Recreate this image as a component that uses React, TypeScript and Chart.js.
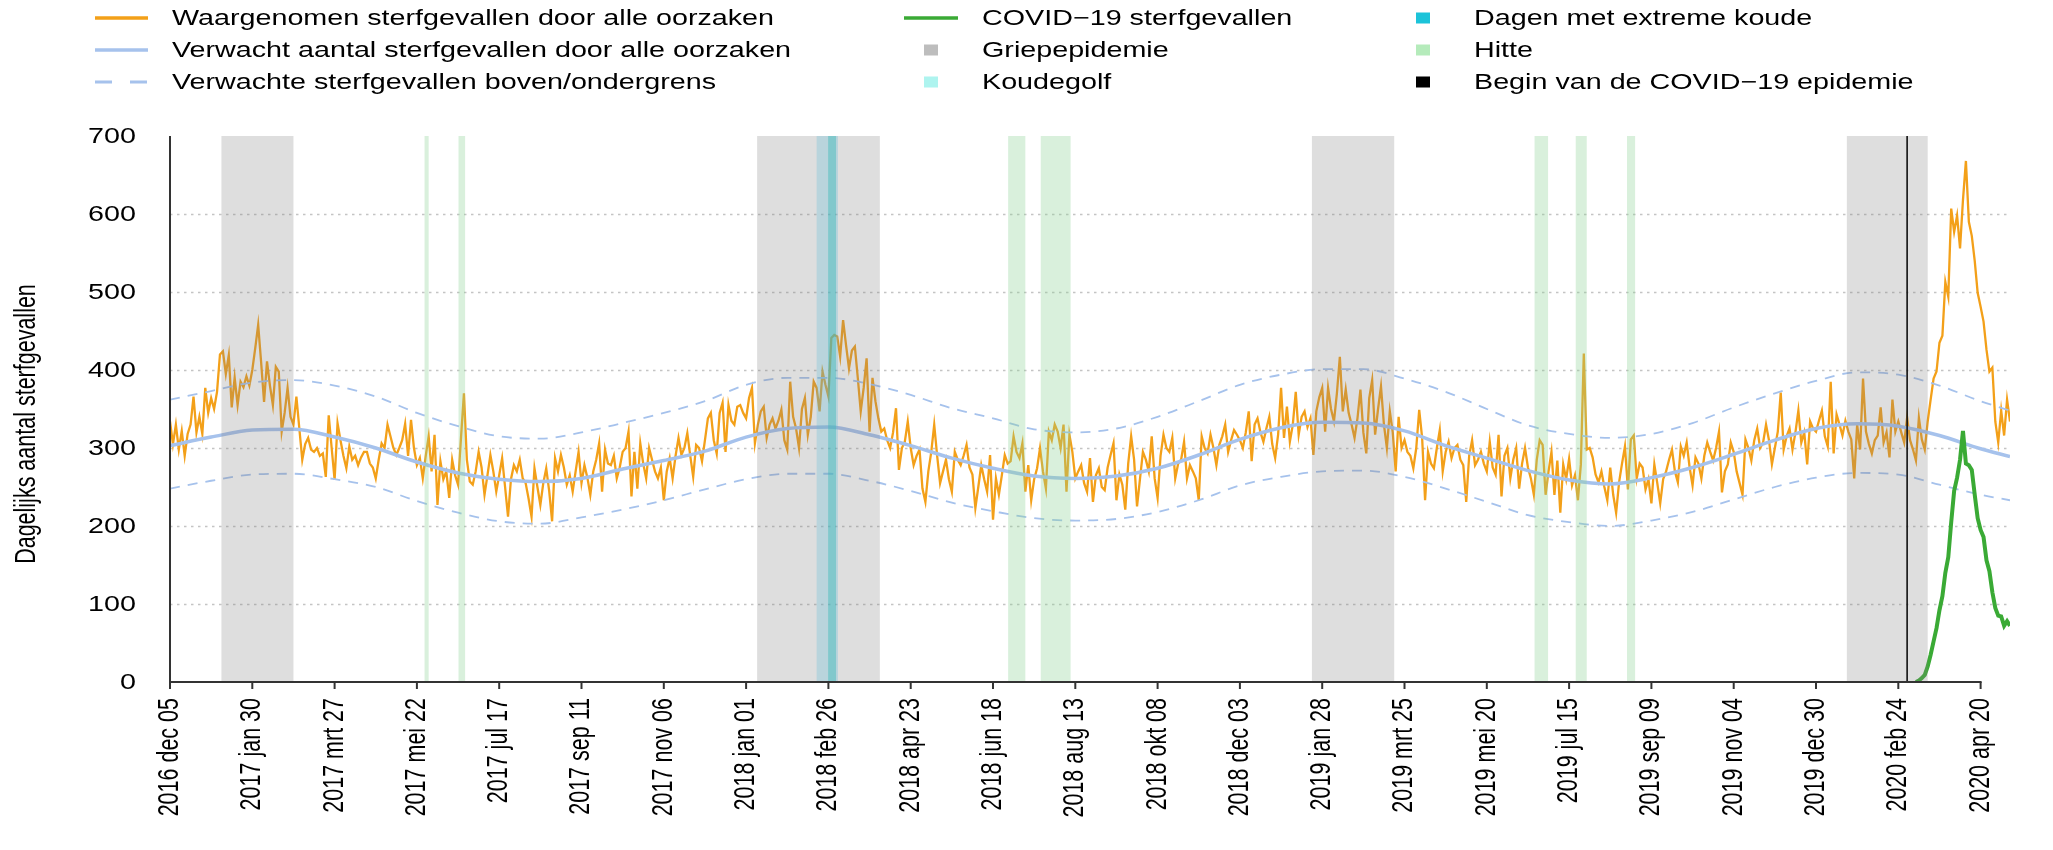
import { useEffect, useRef } from "react";
import { Chart, registerables } from "chart.js";

Chart.register(...registerables);

// ---------- DATA ----------
// Observed daily deaths, one value every 2 days starting 2016-12-05 (day 0)
const STEP_DAYS = 2;
const observed = [
  334,305,330,298,322,290,318,330,366,320,
  340,318,377,345,364,350,372,420,424,395,
  419,352,390,355,385,378,392,380,400,428,
  458,410,359,411,380,355,404,398,321,345,
  377,340,330,366,325,285,305,313,298,295,
  300,290,293,263,342,300,259,332,310,290,
  274,302,285,290,278,288,295,295,280,275,
  261,285,306,300,330,315,300,291,300,310,
  331,290,336,300,278,287,261,290,315,270,
  317,227,283,260,270,236,285,265,253,313,
  370,285,257,253,270,295,275,240,265,291,
  270,244,265,287,250,212,260,278,270,285,
  261,255,235,212,274,250,227,255,274,245,
  206,287,270,291,275,253,265,244,270,295,
  255,278,262,240,270,285,306,244,298,
  280,278,290,261,275,295,300,321,238,295,
  248,306,280,261,300,285,270,261,275,233,
  270,287,261,290,313,291,300,319,290,263,
  304,300,283,310,338,345,310,293,345,358,
  295,355,335,330,353,355,345,338,364,377,
  306,330,347,353,313,330,338,325,335,349,
  310,298,385,340,325,300,350,364,317,340,
  385,377,347,398,381,366,441,445,443,417,
  464,432,402,425,430,390,347,377,415,321,
  390,360,338,321,325,310,300,320,351,272,
  300,308,334,300,278,290,298,248,231,270,
  295,330,290,255,270,285,260,244,295,285,
  278,290,304,275,266,223,250,278,260,244,
  291,208,261,240,265,291,280,283,315,
  295,287,306,244,278,233,260,274,300,270,
  248,321,310,330,321,300,330,244,317,295,
  261,270,278,255,244,287,231,265,
  274,250,246,275,291,306,233,266,253,221,
  280,315,285,225,260,295,285,270,315,261,
  236,290,317,300,295,313,261,280,285,308,
  261,278,270,261,233,315,300,293,317,300,
  278,304,315,330,295,310,323,317,310,300,
  320,347,283,330,338,320,308,325,340,305,
  287,317,377,313,353,308,330,372,317,340,
  347,327,338,291,347,365,377,321,377,350,
  334,370,417,347,375,345,330,313,338,375,
  320,293,364,387,317,350,379,330,300,347,
  320,270,340,300,310,295,290,274,300,
  349,313,233,295,280,274,300,323,270,295,
  308,287,300,304,285,278,231,290,310,278,
  285,295,280,270,308,275,266,317,238,290,
  300,261,285,300,248,280,300,275,261,240,
  285,310,304,240,270,295,240,
  284,217,279,260,286,252,265,233,279,421,
  298,300,288,266,256,270,250,233,275,240,
  217,256,280,302,247,311,316,261,280,275,
  247,260,229,279,255,229,260,270,285,298,
  270,256,302,290,307,275,252,288,280,261,
  290,307,295,284,300,321,243,270,279,307,
  295,270,255,240,311,300,284,310,325,300,
  307,330,310,279,300,321,371,298,315,325,
  298,320,348,307,320,279,334,325,321,335,
  348,315,302,385,293,343,330,316,335,321,
  311,261,330,298,389,321,305,293,310,316,
  352,307,320,288,362,321,334,320,307,339,
  310,298,284,339,311,298,334,362,389,398,
  435,444,513,494,607,577,598,556,618,668,
  590,572,540,499,481,462,426,398,403,334,
  307,348,316,362,334,
];

// Expected deaths and bounds, read at these days
const expectedDays = [
  0,28,56,84,112,140,168,196,224,252,280,308,336,364,392,420,448,476,504,532,560,588,616,644,
  672,700,728,756,784,812,840,868,896,924,952,980,1008,1036,1064,1092,1120,1148,1176,1204,1232,1252,
];
const expected = [
  303,314,323,324,314,300,282,268,260,257,261,273,284,296,314,325,327,317,303,287,274,264,261,264,
  274,291,311,326,333,332,322,303,287,271,259,254,262,275,292,310,325,331,328,316,299,289,
];
const upperBound = [
  362,373,384,387,380,366,345,328,315,312,320,332,345,360,381,390,390,382,368,351,338,324,320,325,
  340,360,381,394,401,401,389,372,350,329,318,313,318,332,352,370,386,397,394,380,360,348,
];
const lowerBound = [
  248,258,266,267,260,250,232,217,206,203,211,221,233,247,260,267,267,258,245,230,219,210,207,209,
  218,233,252,263,270,271,263,248,231,214,205,200,207,218,234,250,262,268,266,253,240,233,
];

// COVID-19 deaths, every 2 days from this day
const covidFirstDay = 1188;
const covidDeaths = [
  0,2,5,9,20,35,52,69,92,110,140,160,205,245,262,285,322,280,278,272,240,210,195,186,156,142,115,95,85,84,72,78,72,
];

// Periods (day numbers since 2016-12-05)
const griepStart = [35, 399.5, 777, 1141];
const griepEnd = [84, 483, 833, 1196];
const koudegolfStart = [440];
const koudegolfEnd = [454.5];
const extremeKoudeStart = [447.8];
const extremeKoudeEnd = [453.2];
const hitteStart = [173.2, 196.3, 570.3, 592.5, 928.5, 956.5, 991.4];
const hitteEnd = [176, 200.8, 582, 612.8, 937.7, 964, 996.9];
const covidEpidemicStart = 1182;

// Axes
const xTickDays = [0,56,112,168,224,280,336,392,448,504,560,616,672,728,784,840,896,952,1008,1064,1120,1176,1232];
const xTickLabels = [
  "2016 dec 05","2017 jan 30","2017 mrt 27","2017 mei 22","2017 jul 17","2017 sep 11","2017 nov 06",
  "2018 jan 01","2018 feb 26","2018 apr 23","2018 jun 18","2018 aug 13","2018 okt 08","2018 dec 03",
  "2019 jan 28","2019 mrt 25","2019 mei 20","2019 jul 15","2019 sep 09","2019 nov 04","2019 dec 30",
  "2020 feb 24","2020 apr 20",
];
const yTickValues = [0,100,200,300,400,500,600,700];
const gridValues = [100,200,300,400,500,600];
const yTitle = "Dagelijks aantal sterfgevallen";

// ---------- STYLE ----------
const ORANGE = "rgb(243,160,25)";
const BLUE = "rgb(166,194,236)";
const GREEN = "rgb(58,170,53)";
const FONT = '"Liberation Sans", Arial, Helvetica, sans-serif';
const SX = 1.335;

const legendItems = [
  { label: "Waargenomen sterfgevallen door alle oorzaken", kind: "line", color: ORANGE, col: 0, row: 0 },
  { label: "Verwacht aantal sterfgevallen door alle oorzaken", kind: "line", color: BLUE, col: 0, row: 1 },
  { label: "Verwachte sterfgevallen boven/ondergrens", kind: "dash", color: BLUE, col: 0, row: 2 },
  { label: "COVID\u221219 sterfgevallen", kind: "line", color: GREEN, col: 1, row: 0 },
  { label: "Griepepidemie", kind: "square", color: "#bdbdbd", col: 1, row: 1 },
  { label: "Koudegolf", kind: "square", color: "#aef4ef", col: 1, row: 2 },
  { label: "Dagen met extreme koude", kind: "square", color: "#1cc3d9", col: 2, row: 0 },
  { label: "Hitte", kind: "square", color: "#b5ebbb", col: 2, row: 1 },
  { label: "Begin van de COVID\u221219 epidemie", kind: "square", color: "#000000", col: 2, row: 2 },
];
const legendRowY = [18, 50, 82];
const legendCols = [
  { x0: 95, x1: 148, text: 172 },
  { x0: 904, x1: 958, text: 982 },
  { x0: 1416, x1: 1430, text: 1474 },
];

function drawText(ctx: CanvasRenderingContext2D, s: string, x: number, y: number, size: number, align: CanvasTextAlign, rotated = false) {
  ctx.save();
  ctx.translate(x, y);
  if (rotated) {
    ctx.rotate(-Math.PI / 2);
    ctx.scale(1, SX);
  } else {
    ctx.scale(SX, 1);
  }
  ctx.font = `${size}px ${FONT}`;
  ctx.textAlign = align;
  ctx.textBaseline = "middle";
  ctx.fillStyle = "#000";
  ctx.fillText(s, 0, 0);
  ctx.restore();
}

const overlayPlugin = {
  id: "overlay",
  beforeDatasetsDraw(chart: any) {
    const { ctx, chartArea, scales } = chart;
    const y = scales.y;
    ctx.save();
    ctx.strokeStyle = "#c4c4c4";
    ctx.lineWidth = 1.5;
    ctx.setLineDash([2.5, 4.5]);
    gridValues.forEach((v) => {
      const py = Math.round(y.getPixelForValue(v)) + 0.5;
      ctx.beginPath();
      ctx.moveTo(chartArea.left, py);
      ctx.lineTo(chartArea.right, py);
      ctx.stroke();
    });
    ctx.restore();
  },
  afterDatasetsDraw(chart: any) {
    const { ctx, scales } = chart;
    const x = scales.x;
    const y = scales.y;
    const top = y.getPixelForValue(700);
    const bottom = y.getPixelForValue(0);
    const band = (s: number, e: number, color: string) => {
      const x0 = x.getPixelForValue(s);
      const x1 = x.getPixelForValue(e);
      ctx.fillStyle = color;
      ctx.fillRect(x0, top, x1 - x0, bottom - top);
    };
    ctx.save();
    griepStart.forEach((s, i) => band(s, griepEnd[i], "rgba(128,128,128,0.26)"));
    koudegolfStart.forEach((s, i) => band(s, koudegolfEnd[i], "rgba(100,190,215,0.30)"));
    extremeKoudeStart.forEach((s, i) => band(s, extremeKoudeEnd[i], "rgba(60,185,185,0.45)"));
    hitteStart.forEach((s, i) => band(s, hitteEnd[i], "rgba(140,210,150,0.33)"));
    const cx = x.getPixelForValue(covidEpidemicStart);
    ctx.strokeStyle = "#111";
    ctx.lineWidth = 1.6;
    ctx.beginPath();
    ctx.moveTo(cx, top);
    ctx.lineTo(cx, bottom);
    ctx.stroke();
    ctx.restore();
  },
  afterDraw(chart: any) {
    const { ctx, scales } = chart;
    const x = scales.x;
    const y = scales.y;
    const x0 = x.getPixelForValue(0);
    const y0 = y.getPixelForValue(0);
    ctx.save();
    // axis lines
    ctx.strokeStyle = "#333";
    ctx.lineWidth = 2;
    ctx.beginPath();
    ctx.moveTo(x0, y0);
    ctx.lineTo(x.getPixelForValue(xTickDays[xTickDays.length - 1]) + 1, y0);
    ctx.stroke();
    ctx.beginPath();
    ctx.moveTo(x0, y0 + 1);
    ctx.lineTo(x0, y.getPixelForValue(700));
    ctx.stroke();
    // x ticks + labels
    xTickDays.forEach((d, i) => {
      const px = x.getPixelForValue(d);
      ctx.beginPath();
      ctx.moveTo(px, y0);
      ctx.lineTo(px, y0 + 7);
      ctx.stroke();
      drawText(ctx, xTickLabels[i], px, y0 + 16, 21.5, "right", true);
    });
    // y labels
    yTickValues.forEach((v) => {
      drawText(ctx, String(v), 136, y.getPixelForValue(v) + 1, 21.5, "right");
    });
    drawText(ctx, yTitle, 27, 424, 21.5, "center", true);
    // legend
    legendItems.forEach((it) => {
      const col = legendCols[it.col];
      const ly = legendRowY[it.row];
      ctx.save();
      if (it.kind === "line" || it.kind === "dash") {
        ctx.strokeStyle = it.color;
        ctx.lineWidth = it.kind === "line" ? 3.5 : 3;
        ctx.setLineDash(it.kind === "dash" ? [17, 18] : []);
        ctx.beginPath();
        ctx.moveTo(col.x0, ly);
        ctx.lineTo(col.x1, ly);
        ctx.stroke();
      } else {
        const cxm = it.col === 1 ? (legendCols[1].x0 + legendCols[1].x1) / 2 : (col.x0 + col.x1) / 2;
        ctx.fillStyle = it.color;
        ctx.fillRect(cxm - 7, ly - 5.5, 14, 11);
      }
      ctx.restore();
      drawText(ctx, it.label, col.text, ly + 1, 21.5, "left");
    });
    ctx.restore();
  },
};

export default function App() {
  const ref = useRef<HTMLCanvasElement>(null);
  useEffect(() => {
    document.body.style.margin = "0";
    const canvas = ref.current;
    if (!canvas) return;
    const chart = new Chart(canvas, {
      type: "line",
      data: {
        datasets: [
          {
            label: "COVID-19 sterfgevallen",
            data: covidDeaths.map((v, i) => ({ x: covidFirstDay + i * STEP_DAYS, y: v })),
            borderColor: GREEN,
            borderWidth: 4,
            pointRadius: 0,
            tension: 0,
            order: 0,
          },
          {
            label: "Verwacht aantal sterfgevallen",
            data: expectedDays.map((d, i) => ({ x: d, y: expected[i] })),
            borderColor: BLUE,
            borderWidth: 3.5,
            pointRadius: 0,
            cubicInterpolationMode: "monotone",
            order: 1,
          },
          {
            label: "Bovengrens",
            data: expectedDays.map((d, i) => ({ x: d, y: upperBound[i] })),
            borderColor: BLUE,
            borderWidth: 1.8,
            borderDash: [10, 8],
            pointRadius: 0,
            cubicInterpolationMode: "monotone",
            order: 2,
          },
          {
            label: "Ondergrens",
            data: expectedDays.map((d, i) => ({ x: d, y: lowerBound[i] })),
            borderColor: BLUE,
            borderWidth: 1.8,
            borderDash: [10, 8],
            pointRadius: 0,
            cubicInterpolationMode: "monotone",
            order: 2,
          },
          {
            label: "Waargenomen sterfgevallen",
            data: observed.map((v, i) => ({ x: i * STEP_DAYS, y: v })),
            borderColor: ORANGE,
            borderWidth: 2.3,
            pointRadius: 0,
            tension: 0,
            order: 3,
          },
        ],
      },
      options: {
        animation: false,
        responsive: false,
        devicePixelRatio: 1,
        layout: { padding: { top: 136, right: 43, left: 0, bottom: 0 } },
        plugins: { legend: { display: false }, tooltip: { enabled: false } },
        scales: {
          x: {
            type: "linear",
            min: 0,
            max: 1252,
            ticks: { display: false },
            grid: { display: false },
            border: { display: false },
            afterFit: (s: any) => { s.height = 168; },
          },
          y: {
            min: 0,
            max: 700,
            ticks: { display: false },
            grid: { display: false },
            border: { display: false },
            afterFit: (s: any) => { s.width = 170; },
          },
        },
      },
      plugins: [overlayPlugin],
    } as any);
    return () => chart.destroy();
  }, []);
  return <canvas ref={ref} width={2053} height={850} style={{ display: "block", width: 2053, height: 850 }} />;
}
